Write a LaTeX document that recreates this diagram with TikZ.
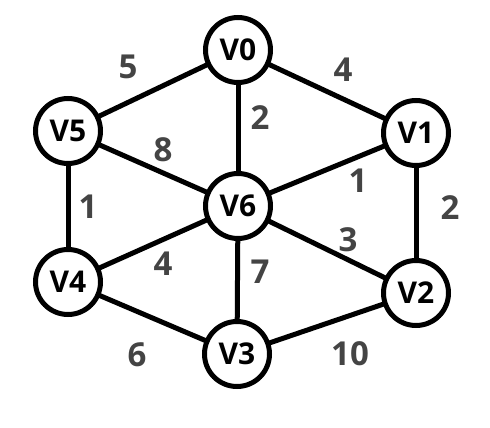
\documentclass[tikz,border=0pt]{standalone}
\usepackage{fontspec}
\setmainfont{Open Sans}
\begin{document}
\begin{tikzpicture}[x=1pt,y=-1pt,
  vert/.style={circle,draw=black,line width=5pt,fill=white,minimum size=65pt,inner sep=0pt,font=\fontsize{30}{34}\selectfont\bfseries},
  edge/.style={line width=5pt,draw=black},
  wt/.style={text=wgray,font=\fontsize{33}{38}\selectfont\bfseries}]
\definecolor{wgray}{HTML}{444444}
\useasboundingbox (0,0) rectangle (490,428);
\coordinate (c0) at (238,50);
\coordinate (c1) at (416,133);
\coordinate (c2) at (416,293);
\coordinate (c3) at (237,354);
\coordinate (c4) at (68,282);
\coordinate (c5) at (68,131);
\coordinate (c6) at (238,206);
\draw[edge] (c0) -- (c1);
\draw[edge] (c0) -- (c5);
\draw[edge] (c0) -- (c6);
\draw[edge] (c1) -- (c2);
\draw[edge] (c1) -- (c6);
\draw[edge] (c2) -- (c6);
\draw[edge] (c2) -- (c3);
\draw[edge] (c3) -- (c6);
\draw[edge] (c3) -- (c4);
\draw[edge] (c4) -- (c6);
\draw[edge] (c4) -- (c5);
\draw[edge] (c5) -- (c6);
\node[vert] (v0) at (c0) {V0};
\node[vert] (v1) at (c1) {V1};
\node[vert] (v2) at (c2) {V2};
\node[vert] (v3) at (c3) {V3};
\node[vert] (v4) at (c4) {V4};
\node[vert] (v5) at (c5) {V5};
\node[vert] (v6) at (c6) {V6};
\node[wt] (w05) at (128,67) {5};
\node[wt] (w01) at (343,70) {4};
\node[wt] (w06) at (260,118) {2};
\node[wt] (w56) at (163,150) {8};
\node[wt] (w16) at (358,181) {1};
\node[wt] (w12) at (450,208) {2};
\node[wt] (w45) at (88,207) {1};
\node[wt] (w26) at (348,240) {3};
\node[wt] (w46) at (163,264) {4};
\node[wt] (w36) at (260,272) {7};
\node[wt] (w34) at (137,355) {6};
\node[wt] (w23) at (350,354) {10};
\end{tikzpicture}
\end{document}
